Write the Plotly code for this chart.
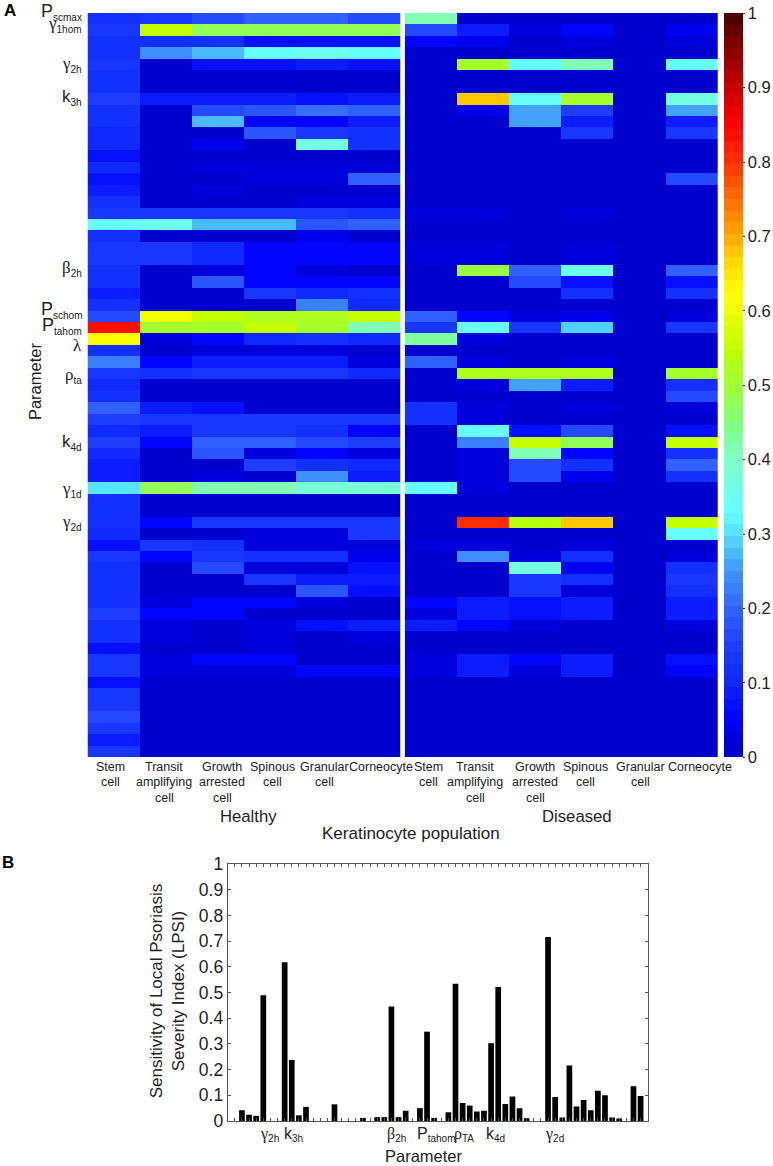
import plotly.graph_objects as go

W, H = 773, 1166

populations = ["Stem cell", "Transit amplifying cell", "Growth arrested cell",
               "Spinous cell", "Granular cell", "Corneocyte"]

# sensitivity per parameter (row) and population (column)
healthy = [
 [.12,.14,.16,.20,.20,.17],[.14,.55,.47,.47,.47,.47],[.12,.12,.11,.07,.07,.07],[.12,.24,.27,.33,.35,.33],
 [.13,.00,.07,.07,.08,.07],[.11,.00,.00,.00,.00,.01],[.11,.00,.00,.00,.00,.00],[.15,.08,.09,.09,.07,.09],
 [.11,.00,.16,.18,.21,.19],[.11,.00,.28,.06,.06,.08],[.10,.00,.01,.18,.13,.11],[.10,.00,.04,.01,.37,.12],
 [.07,.00,.01,.01,.01,.01],[.10,.00,.03,.03,.03,.02],[.07,.00,.01,.03,.03,.20],[.09,.00,.03,.01,.01,.01],
 [.11,.00,.00,.00,.02,.03],[.13,.13,.13,.13,.13,.12],[.33,.35,.27,.27,.18,.20],[.11,.00,.00,.00,.04,.01],
 [.13,.13,.10,.06,.06,.06],[.13,.13,.10,.06,.06,.06],[.11,.00,.03,.06,.03,.01],[.11,.00,.18,.06,.05,.05],
 [.09,.00,.00,.13,.10,.12],[.11,.00,.00,.00,.22,.10],[.17,.60,.55,.52,.52,.55],[.83,.50,.50,.56,.50,.42],
 [.62,.03,.05,.10,.11,.10],[.12,.00,.02,.02,.02,.00],[.22,.05,.09,.09,.09,.03],[.14,.12,.13,.13,.13,.10],
 [.10,.00,.00,.00,.00,.00],[.11,.00,.00,.00,.00,.00],[.20,.09,.07,.00,.00,.00],[.15,.13,.13,.13,.14,.14],
 [.10,.09,.13,.13,.11,.05],[.15,.05,.20,.20,.17,.15],[.10,.00,.18,.02,.05,.02],[.09,.00,.00,.15,.11,.10],
 [.09,.00,.02,.00,.24,.09],[.30,.48,.42,.42,.38,.38],[.11,.00,.01,.00,.00,.00],[.11,.00,.00,.00,.01,.01],
 [.11,.05,.13,.13,.13,.14],[.10,.00,.00,.02,.02,.13],[.07,.13,.11,.03,.03,.03],[.13,.05,.13,.12,.11,.04],
 [.12,.00,.16,.03,.03,.07],[.11,.00,.00,.13,.08,.09],[.11,.00,.00,.00,.18,.07],[.11,.02,.05,.05,.02,.00],
 [.15,.05,.05,.01,.00,.00],[.12,.03,.00,.03,.07,.08],[.12,.03,.00,.03,.00,.02],[.07,.00,.00,.02,.00,.00],
 [.13,.03,.05,.05,.00,.00],[.13,.03,.03,.03,.05,.05],[.07,.00,.00,.00,.00,.01],[.13,.00,.00,.00,.00,.00],
 [.13,.00,.00,.00,.00,.00],[.16,.00,.00,.00,.01,.00],[.14,.00,.00,.00,.00,.00],[.09,.00,.00,.00,.00,.00],
 [.14,.00,.00,.00,.01,.00],
]
diseased = [
 [.42,.00,.00,.00,.00,.00],[.17,.08,.03,.05,.00,.04],[.05,.04,.01,.03,.00,.03],[.00,.00,.00,.00,.00,.00],
 [.00,.50,.33,.42,.00,.33],[.00,.00,.00,.00,.00,.00],[.00,.00,.00,.00,.00,.00],[.00,.68,.33,.50,.00,.37],
 [.00,.04,.26,.15,.00,.25],[.00,.00,.26,.09,.00,.09],[.00,.00,.00,.13,.00,.13],[.00,.00,.00,.00,.00,.00],
 [.00,.00,.00,.00,.00,.00],[.00,.00,.00,.00,.00,.00],[.00,.00,.00,.00,.00,.17],[.00,.00,.00,.00,.00,.00],
 [.00,.00,.00,.00,.00,.00],[.03,.03,.01,.03,.00,.00],[.00,.00,.00,.00,.00,.00],[.00,.00,.00,.00,.00,.00],
 [.03,.03,.00,.03,.00,.01],[.03,.03,.01,.03,.00,.01],[.00,.49,.19,.35,.00,.19],[.00,.00,.17,.07,.00,.07],
 [.00,.00,.00,.12,.00,.11],[.00,.00,.00,.00,.00,.00],[.20,.06,.03,.04,.00,.03],[.13,.34,.13,.29,.00,.14],
 [.43,.03,.00,.00,.00,.00],[.00,.00,.00,.00,.00,.00],[.19,.03,.00,.02,.00,.00],[.00,.52,.53,.52,.00,.50],
 [.00,.03,.26,.09,.00,.12],[.00,.00,.00,.00,.00,.16],[.11,.02,.01,.02,.00,.02],[.12,.02,.00,.01,.00,.00],
 [.00,.34,.07,.17,.00,.07],[.00,.22,.55,.47,.00,.55],[.00,.02,.42,.05,.00,.12],[.00,.02,.16,.12,.00,.20],
 [.00,.02,.16,.04,.00,.11],[.33,.02,.00,.00,.00,.00],[.00,.00,.00,.00,.00,.00],[.00,.00,.00,.00,.00,.00],
 [.00,.80,.54,.68,.00,.55],[.00,.00,.00,.00,.00,.33],[.02,.02,.00,.02,.00,.00],[.00,.24,.02,.11,.00,.02],
 [.00,.01,.37,.04,.00,.11],[.00,.01,.13,.11,.00,.13],[.00,.01,.13,.03,.00,.11],[.05,.08,.07,.09,.00,.08],
 [.03,.09,.07,.09,.00,.09],[.09,.05,.03,.01,.00,.03],[.00,.00,.00,.00,.00,.00],[.00,.00,.00,.00,.00,.00],
 [.03,.09,.06,.09,.00,.07],[.02,.09,.03,.08,.00,.05],[.00,.00,.00,.00,.00,.00],[.00,.00,.00,.00,.00,.00],
 [.00,.00,.00,.00,.00,.00],[.00,.00,.00,.00,.00,.00],[.00,.00,.00,.00,.00,.00],[.00,.00,.00,.00,.00,.00],
 [.00,.00,.00,.00,.00,.00],
]

lpsi_param = [2,3,4,5,8,9,10,11,15,19,21,22,23,24,25,27,28,29,31,32,33,34,35,36,37,38,39,40,41,42,45,46,47,48,49,50,51,52,53,54,55,57,58]
lpsi_value = [.042,.024,.020,.490,.618,.238,.022,.055,.065,.012,.015,.015,.446,.015,.040,.050,.348,.012,.034,.535,
              .070,.060,.037,.040,.303,.522,.066,.095,.050,.011,.717,.093,.014,.216,.056,.082,.042,.118,.100,.014,.010,.135,.097]

cb_ticks = [0,.1,.2,.3,.4,.5,.6,.7,.8,.9,1]
bar_ticks = [0,.1,.2,.3,.4,.5,.6,.7,.8,.9,1]
bar_tick_text = ["0","0.1","0.2","0.3","0.4","0.5","0.6","0.7","0.8","0.9","1"]

# colour ramp as seen in the colour bar, quantised to 64 bands
anchors = [(0,(0,0,200)),(.03,(0,0,225)),(.05,(0,0,255)),(.1,(15,40,255)),(.15,(30,62,255)),(.2,(50,100,255)),
           (.25,(65,150,255)),(.3,(85,225,255)),(.33,(100,255,255)),(.4,(128,255,200)),(.45,(128,255,128)),
           (.5,(160,255,50)),(.55,(190,255,0)),(.6,(240,255,0)),(.625,(255,255,0)),(.68,(255,200,0)),(.7,(255,170,0)),
           (.75,(255,110,0)),(.8,(255,50,0)),(.85,(255,0,0)),(.9,(200,0,0)),(.95,(140,0,0)),(1,(70,0,0))]
def ramp(t):
    for (a,ca),(b,cb) in zip(anchors,anchors[1:]):
        if t <= b:
            f=(t-a)/(b-a)
            return tuple(round(p+(q-p)*f) for p,q in zip(ca,cb))
    return anchors[-1][1]
N=64
scale=[]
for i in range(N):
    c="rgb(%d,%d,%d)"%ramp((i+.5)/N)
    scale += [[i/N,c],[(i+1)/N,c]]

TOP, BOTTOM = 13, 1120.7
def px(x): return x/W
def py(y): return 1-(y-TOP)/(BOTTOM-TOP)

nrows=len(healthy)
rows=list(range(1,nrows+1))
cols=list(range(6))
fig=go.Figure()
fig.add_trace(go.Heatmap(z=healthy,x=cols,y=rows,coloraxis="coloraxis",xaxis="x",yaxis="y"))
fig.add_trace(go.Heatmap(z=diseased,x=cols,y=rows,coloraxis="coloraxis",xaxis="x2",yaxis="y2"))
fig.add_trace(go.Bar(x=lpsi_param,y=lpsi_value,width=.8,marker=dict(color="black",line_width=0),xaxis="x3",yaxis="y3"))

A=[]
TXT="#222"
def text(x,y,t,size=13,angle=0,anchor="center",color=TXT,weight=None):
    A.append(dict(x=px(x),y=py(y),xref="paper",yref="paper",text=t,showarrow=False,xanchor=anchor,yanchor="middle",
                  textangle=angle,font=dict(size=size,color=color,family="Liberation Sans",weight=weight)))

GREEK='<span style="font-family:Liberation Serif">%s</span>'
def lab(sym,sub="",sub_size=10,greek=True):
    s=GREEK%sym if greek else sym
    if sub: s+='<sub><span style="font-size:%dpx">%s</span></sub>'%(sub_size,sub)
    return s

param_labels=[("P","scmax",False,12),("γ","1hom",True,24),("γ","2h",True,64),("k","3h",False,97),("β","2h",True,268),
              ("P","schom",False,310),("P","tahom",False,326),("λ","",True,345),("ρ","ta",True,375),("k","4d",False,442),
              ("γ","1d",True,489),("γ","2d",True,522)]
for sym,sub,g,y in param_labels:
    text(84,y,lab(sym,sub,10,g),size=18 if sym=="P" else 17,anchor="right")

x_line_labels=[(110,["Stem","cell"]),(164,["Transit","amplifying","cell"]),(222,["Growth","arrested","cell"]),
               (272,["Spinous","cell"]),(324,["Granular","cell"]),(381,["Corneocyte"]),
               (429,["Stem","cell"]),(475,["Transit","amplifying","cell"]),(535,["Growth","arrested","cell"]),
               (585,["Spinous","cell"]),(640,["Granular","cell"]),(700,["Corneocyte"])]
for x,lines in x_line_labels:
    for i,l in enumerate(lines):
        text(x,767+15.2*i,l,size=12.5)

text(248,816,"Healthy",size=16.7)
text(577,816,"Diseased",size=16.7)
text(411,833,"Keratinocyte population",size=17)
text(35,381,"Parameter",size=16.5,angle=-90)
text(10,11,"A",size=17,weight="bold",color="black")
text(8,862,"B",size=17,weight="bold",color="black")

text(167,991,"Sensitivity of Local Psoriasis<br>Severity Index (LPSI)",size=17,angle=-90)
text(424,1156,"Parameter",size=16.5)
bar_labels=[("γ","2h",True,269),("k","3h",False,293),("β","2h",True,397),("P","tahom",False,436),("ρ","TA",True,464),("k","4d",False,495),("γ","2d",True,554)]
for sym,sub,g,x in bar_labels:
    text(x,1134,lab(sym,sub,10,g),size=16)

hidden=dict(showticklabels=False,ticks="",showgrid=False,zeroline=False,showline=False)
fig.update_layout(
    width=W,height=H,margin=dict(l=0,r=0,t=TOP,b=H-BOTTOM),paper_bgcolor="white",plot_bgcolor="white",showlegend=False,
    font=dict(family="Liberation Sans",color=TXT),
    coloraxis=dict(cmin=0,cmax=1,colorscale=scale,colorbar=dict(
        x=px(724),xanchor="left",xpad=0,ypad=0,thickness=18.7,thicknessmode="pixels",
        len=744/(BOTTOM-TOP),lenmode="fraction",y=py(757),yanchor="bottom",outlinewidth=0,
        tickvals=cb_ticks,ticktext=[str(v) for v in cb_ticks],ticks="outside",ticklen=2,tickcolor="#333",
        tickfont=dict(size=16.5,color=TXT,family="Liberation Sans"))),
    xaxis=dict(domain=[px(87.5),px(400.5)],range=[-.5,5.5],**hidden),
    yaxis=dict(domain=[py(757),py(13)],range=[nrows+.5,.5],**hidden),
    xaxis2=dict(domain=[px(404.7),px(718)],range=[-.5,5.5],**hidden),
    yaxis2=dict(domain=[py(757),py(13)],range=[nrows+.5,.5],**hidden),
    xaxis3=dict(domain=[px(227.7),px(647.7)],range=[0,59],dtick=1,tick0=0,ticks="inside",ticklen=3,tickcolor="#555",
                showticklabels=False,showgrid=False,zeroline=False,showline=True,linecolor="#555",linewidth=1,mirror="allticks",anchor="y3"),
    yaxis3=dict(domain=[py(1120.7),py(864)],range=[0,1],tickvals=bar_ticks,ticktext=bar_tick_text,ticks="inside",ticklen=3,
                tickcolor="#555",tickfont=dict(size=17.5,color=TXT),showgrid=False,zeroline=False,showline=True,linecolor="#555",
                linewidth=1,mirror="allticks",anchor="x3"),
    annotations=A,
)
fig.write_html("out.html",config={"displayModeBar":False},post_script="document.body.style.margin='0';document.body.style.overflow='hidden';")
